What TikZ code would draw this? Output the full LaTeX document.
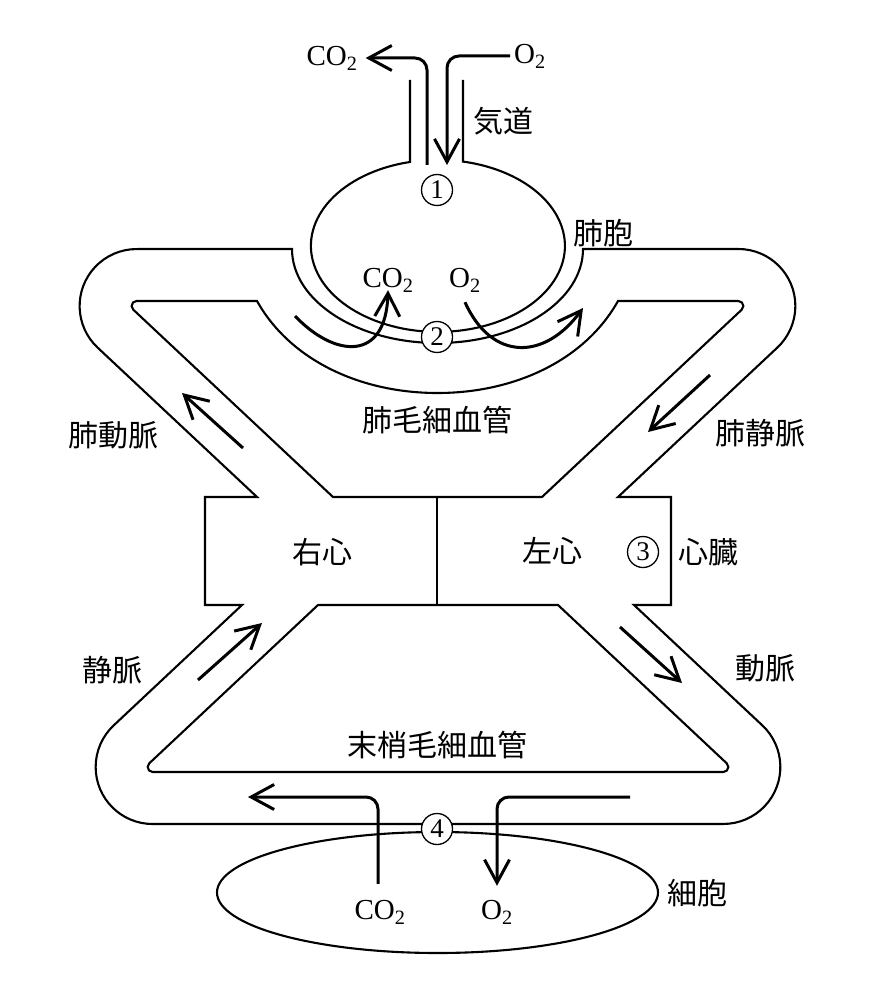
\documentclass[tikz,border=0pt]{standalone}
\usepackage{fontspec}
\setmainfont{Liberation Serif}
\newfontfamily\jpfont{Noto Sans CJK JP}
\usetikzlibrary{arrows.meta}

\begin{document}
\begin{tikzpicture}[x=1pt,y=-1pt,
    wall/.style={line width=2.1pt},
    flow/.style={line width=3pt,-{Straight Barb[length=23pt,width=25pt]}},
    num/.style={draw,circle,line width=1.3pt,fill=white,minimum size=31pt,inner sep=0pt,font=\fontsize{27}{27}\selectfont},
    jp/.style={font=\jpfont\fontsize{30}{36}\selectfont,inner sep=0pt},
    gas/.style={font=\fontsize{29}{34}\selectfont,inner sep=0pt}]
    \pgfmathsetmacro{\rout}{57}
    \pgfmathsetmacro{\rin}{5}
    \useasboundingbox (0,0) rectangle (880,1000);
    % outer wall of both circuits and the heart
    \draw[wall] (205,497) -- (257,497) -- (97.6,347.6)
      arc[start angle=133.2, end angle=270, radius=\rout] -- (292,249)
      arc[start angle=180, end angle=0, x radius=145.5, y radius=94] -- (738.35,249)
      arc[start angle=270, end angle=406.8, radius=\rout] -- (618,497) -- (671,497)
      -- (671,605) -- (634,605) -- (762.35,725.4)
      arc[start angle=-46.8, end angle=90, radius=\rout] -- (152.65,824)
      arc[start angle=90, end angle=226.8, radius=\rout] -- (242,605) -- (205,605) -- cycle;
    % inner wall, lung side
    \draw[wall] (333,497) -- (133.2,309.6) arc[start angle=133.2, end angle=270, radius=\rin]
      -- (257,301) .. controls (290,360) and (360,393) .. (437.5,393)
      .. controls (515,393) and (585,360) .. (618,301) -- (738.35,301)
      arc[start angle=270, end angle=406.8, radius=\rin] -- (542,497) -- cycle;
    % inner wall, body side
    \draw[wall] (318,605) -- (149.23,763.35) arc[start angle=226.8, end angle=90, radius=\rin]
      -- (723.35,772) arc[start angle=90, end angle=-46.8, radius=\rin] -- (558,605) -- cycle;
    \draw[wall] (437,497) -- (437,605);
    % alveolus and cell
    \draw[wall] (410,80) -- (410,162)
      arc[start angle=257.3, end angle=-78.6, x radius=127, y radius=86] -- (463,80);
    \draw[wall] (437.5,892.5) ellipse[x radius=220.5, y radius=60.5];

    % labels
    \node[gas] (co2air) at (332,58) {CO\textsubscript{2}};
    \node[gas] (o2air) at (530,56) {O\textsubscript{2}};
    \node[gas] (co2alv) at (388,280) {CO\textsubscript{2}};
    \node[gas] (o2alv) at (465,280) {O\textsubscript{2}};
    \node[gas] (co2cell) at (380,912) {CO\textsubscript{2}};
    \node[gas] (o2cell) at (497,912) {O\textsubscript{2}};
    \node[jp] (airway) at (503,121) {気道};
    \node[jp] (alveolus) at (603,233) {肺胞};
    \node[jp] (pulart) at (113,435) {肺動脈};
    \node[jp] (pulvein) at (760,433) {肺静脈};
    \node[jp] (pulcap) at (437,420) {肺毛細血管};
    \node[jp] (rheart) at (322,552) {右心};
    \node[jp] (lheart) at (552,551) {左心};
    \node[jp] (heart) at (708,552) {心臓};
    \node[jp] (vein) at (112,670) {静脈};
    \node[jp] (artery) at (765,668) {動脈};
    \node[jp] (bodycap) at (437,745) {末梢毛細血管};
    \node[jp] (cell) at (697,893) {細胞};
    \node[num] (n1) at (437,190) {1};
    \node[num] (n2) at (437,337) {2};
    \node[num] (n3) at (643,552) {3};
    \node[num] (n4) at (437,829) {4};

    % gas and blood flow
    \coordinate (exhale) at (427,165);
    \coordinate (inhale) at (447,165);
    \draw[flow, rounded corners=12pt] (exhale) |- ([xshift=8pt]co2air.east);
    \draw[flow, rounded corners=12pt] ([xshift=-4pt]o2air.west) -| (inhale);
    \coordinate (capin) at (295,316);
    \coordinate (capout) at (583,308);
    \draw[flow] (capin) .. controls (335,358) and (386,362) .. ([yshift=2pt]co2alv.south);
    \draw[flow] ([yshift=-10pt]o2alv.south) .. controls (492,362) and (545,360) .. (capout);
    \coordinate (pa1) at (243,448);
    \coordinate (pa2) at (182,393);
    \coordinate (pv1) at (710,375);
    \coordinate (pv2) at (648,432);
    \coordinate (vn1) at (198,680);
    \coordinate (vn2) at (262,623);
    \coordinate (ar1) at (620,627);
    \coordinate (ar2) at (682,683);
    \draw[flow] (pa1) -- (pa2);
    \draw[flow] (pv1) -- (pv2);
    \draw[flow] (vn1) -- (vn2);
    \draw[flow] (ar1) -- (ar2);
    \coordinate (venous) at (248,797);
    \coordinate (arterial) at (630,797);
    \draw[flow, rounded corners=12pt] ([xshift=-2pt,yshift=16pt]co2cell.north) |- (venous);
    \draw[flow, rounded corners=12pt] (arterial) -| ([yshift=14pt]o2cell.north);
  \end{tikzpicture}
\end{document}
